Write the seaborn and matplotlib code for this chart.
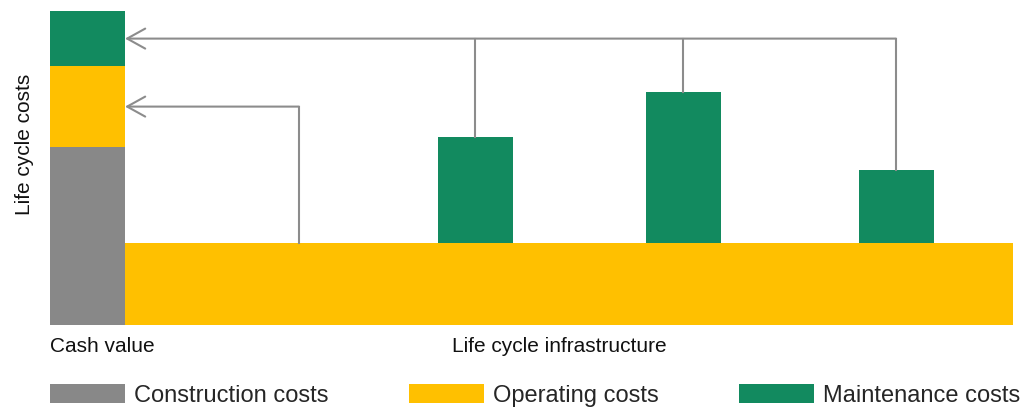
import numpy as np
import pandas as pd
import matplotlib
matplotlib.use("Agg")
import matplotlib.pyplot as plt
from matplotlib.patches import Patch
import seaborn as sns

# cash value stack (construction, operating, maintenance)
cost_types = ["Construction costs", "Operating costs", "Maintenance costs"]
cash_value = [4.45, 2.02, 1.38]

# life cycle: yearly operating level and maintenance events
life_start = 1.0
life_end = 12.84
operating_level = 2.05
maint_years = [5.67, 8.44, 11.28]
maint_costs = [2.65, 3.78, 1.83]
operating_arrow_x = 3.32

colors = {"Construction costs": "#888888",
          "Operating costs": "#FFC000",
          "Maintenance costs": "#128A5F"}
line_col = "#8C8C8C"
arrow_style = "->,head_length=1.3,head_width=0.72"

sns.set_theme(style="white")
plt.rcParams['font.family'] = ['Liberation Sans', 'DejaVu Sans']

fig = plt.figure(figsize=(10.26, 4.08), dpi=100)
ax = fig.add_axes([50 / 1026, 83 / 408, 963 / 1026, 314 / 408])

# stacked cash value bar
bottom = 0
mids = []
for name, val in zip(cost_types, cash_value):
    ax.bar(0, val, bottom=bottom, width=1, align="edge", color=colors[name], linewidth=0)
    mids.append(bottom + val / 2)
    bottom += val

# operating costs over the life cycle
ax.bar(life_start, operating_level, width=life_end - life_start, align="edge",
       color=colors["Operating costs"], linewidth=0)

# maintenance events
maint = pd.DataFrame({"year": maint_years, "cost": maint_costs})
min_gap = np.min(np.diff(maint_years))
sns.barplot(data=maint, x="year", y="cost", bottom=operating_level, native_scale=True,
            width=1 / min_gap, color=colors["Maintenance costs"], saturation=1,
            linewidth=0, ax=ax)

# arrows back to cash value
y_maint = mids[2]
for x, c in zip(maint_years, maint_costs):
    ax.plot([x, x], [operating_level + c, y_maint], color=line_col, lw=1.5,
            solid_capstyle="projecting")
ax.annotate("", xy=(1, y_maint), xytext=(maint_years[-1], y_maint),
            arrowprops=dict(arrowstyle=arrow_style, mutation_scale=10, color=line_col,
                            lw=1.5, shrinkA=0, shrinkB=0))
y_op = mids[1]
ax.plot([operating_arrow_x, operating_arrow_x], [operating_level, y_op], color=line_col,
        lw=1.5, solid_capstyle="projecting")
ax.annotate("", xy=(1, y_op), xytext=(operating_arrow_x, y_op),
            arrowprops=dict(arrowstyle=arrow_style, mutation_scale=10, color=line_col,
                            lw=1.5, shrinkA=0, shrinkB=0))

ax.set_xlim(0, life_end)
ax.set_ylim(0, sum(cash_value))
ax.set_xlabel("")
ax.set_ylabel("")
ax.set_xticks([])
ax.set_yticks([])
sns.despine(ax=ax, left=True, bottom=True)

xt = ax.get_xaxis_transform()
ax.text(0, -0.086, "Cash value", transform=xt, fontsize=15, va="baseline", ha="left",
        color="#111111")
ax.text(5.36, -0.086, "Life cycle infrastructure", transform=xt, fontsize=15,
        va="baseline", ha="left", color="#111111")
fig.text(24 / 1026, 1 - 144 / 408, "Life cycle costs", rotation=90, fontsize=15,
         ha="center", va="center", color="#111111")

handles = [Patch(color=colors[n], linewidth=0) for n in cost_types]
fig.legend(handles, cost_types, loc="lower left", bbox_to_anchor=(49 / 1026, 0),
           ncol=3, frameon=False, fontsize=17, handlelength=3.18, handleheight=0.89,
           handletextpad=0.38, columnspacing=3.39, borderpad=0.05, borderaxespad=0)

fig.savefig("out.png", dpi=100)
